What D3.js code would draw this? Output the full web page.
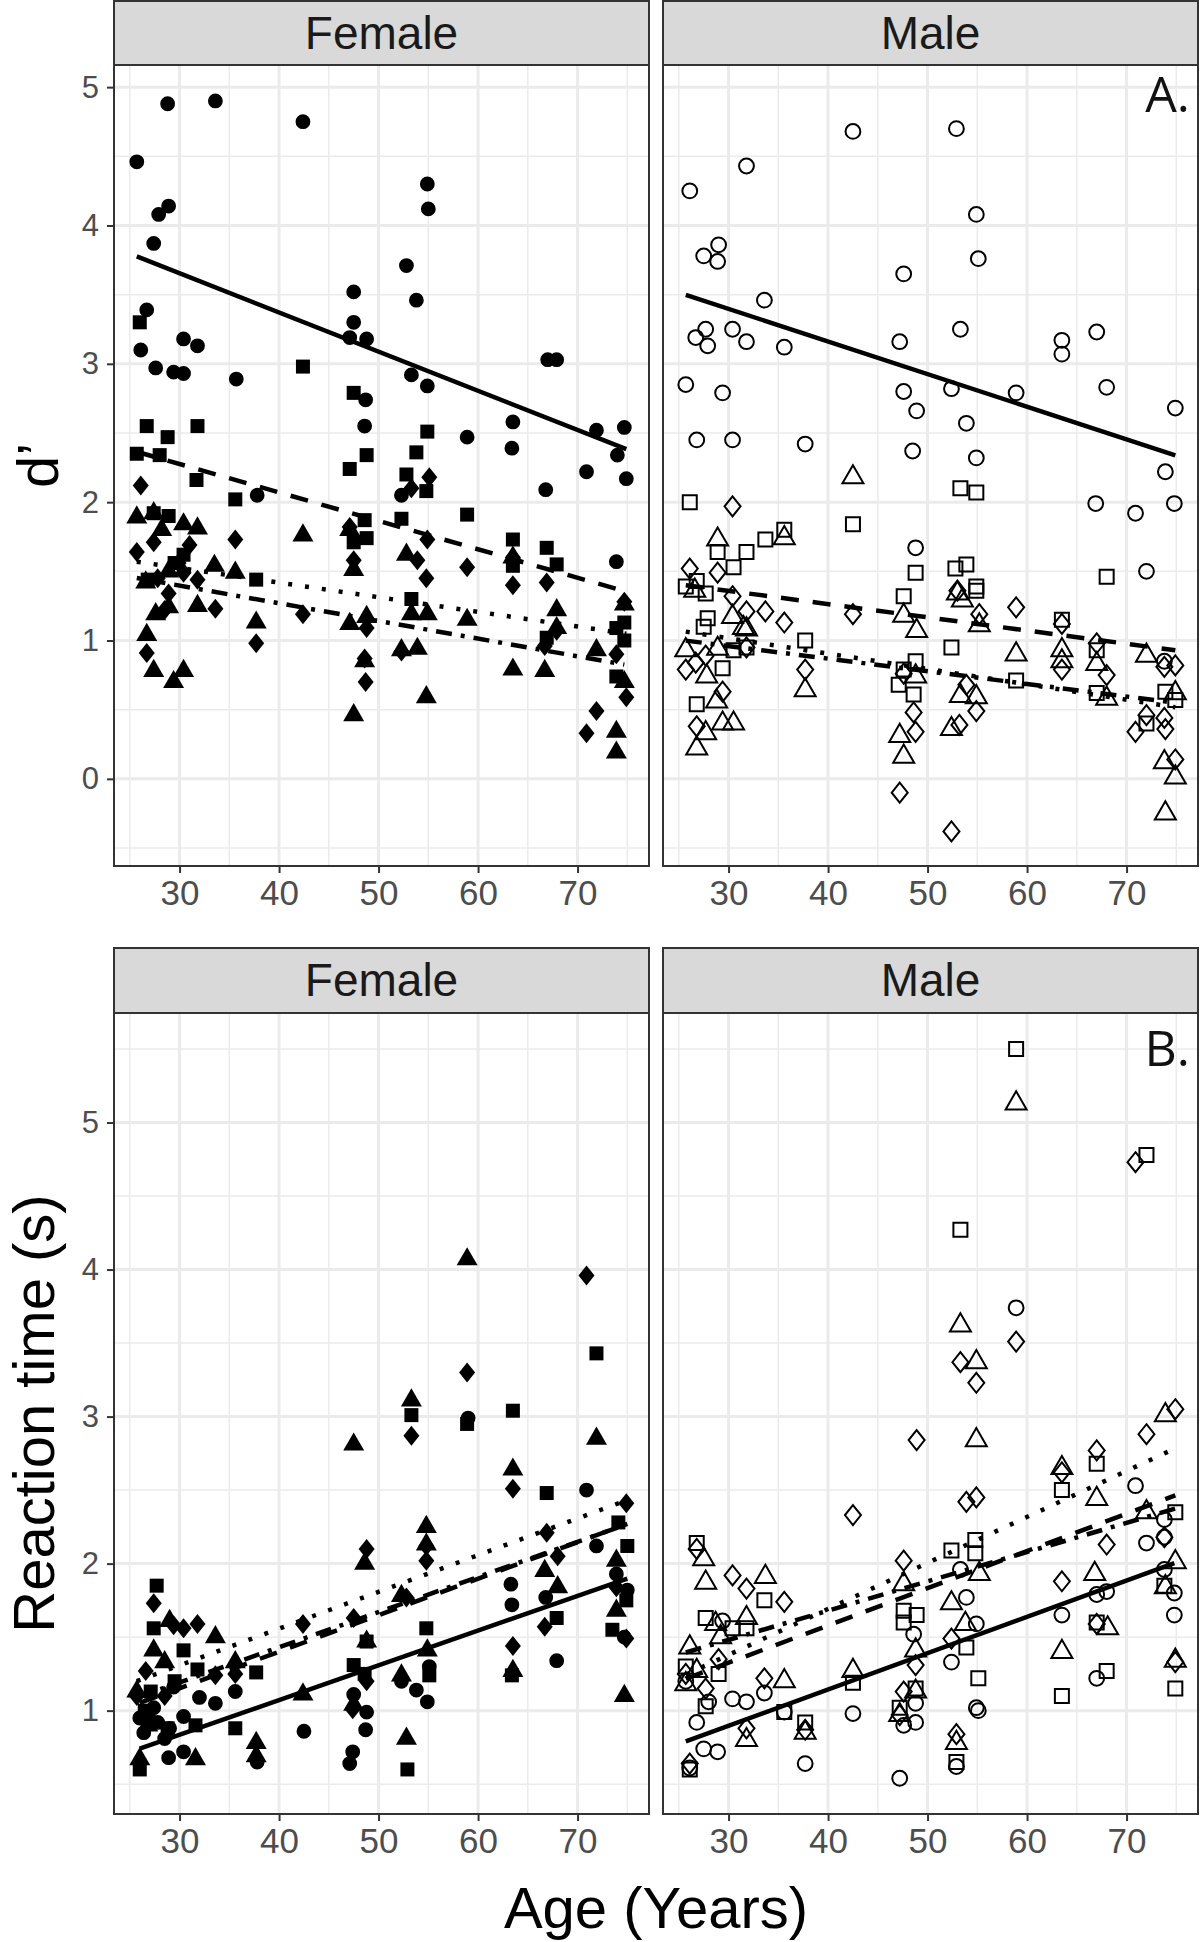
<!DOCTYPE html>
<html>
<head>
<meta charset="utf-8">
<script src="https://cdn.jsdelivr.net/npm/d3@7"></script>
<style>
  body { margin: 0; background: #fff; }
  svg { display: block; font-family: "Liberation Sans", Arial, Helvetica, sans-serif; }
</style>
</head>
<body>
<div id="chart"></div>
<script>
// ---- data (age in years, value) ----
var sexes = ["Female", "Male"];
var ageTicks = [30, 40, 50, 60, 70];
var ageMinor = [25, 35, 45, 55, 65, 75];
var dTicks = [0, 1, 2, 3, 4, 5];
var dMinor = [-0.5, 0.5, 1.5, 2.5, 3.5, 4.5];
var rtTicks = [1, 2, 3, 4, 5];
var rtMinor = [0.5, 1.5, 2.5, 3.5, 4.5, 5.5];
var conditions = ["circle", "square", "diamond", "triangle"];
var lineTypes = { circle: null, square: "18,14", diamond: "4,13", triangle: "16,9,4,9" };

// d' female
var dFemCircle = [[28.8,4.88],[33.6,4.90],[42.4,4.75],[25.7,4.46],[54.9,4.30],[55.0,4.12],[28.9,4.14],[27.9,4.08],[27.4,3.87],[52.8,3.71],[47.5,3.52],[53.8,3.46],[26.7,3.39],[47.5,3.30],[30.4,3.18],[31.8,3.13],[26.1,3.10],[47.1,3.19],[48.8,3.18],[27.6,2.97],[29.4,2.94],[30.4,2.93],[35.7,2.89],[53.3,2.92],[54.9,2.84],[48.7,2.74],[48.6,2.55],[67.0,3.03],[67.9,3.03],[63.5,2.58],[58.9,2.47],[71.9,2.52],[74.7,2.54],[63.4,2.39],[74.0,2.34],[70.9,2.22],[74.9,2.17],[66.8,2.09],[73.9,1.57],[37.8,2.05],[52.3,2.05]];
var dFemSquare = [[26.0,3.30],[26.7,2.55],[28.8,2.47],[31.8,2.55],[25.7,2.35],[28.0,2.34],[31.7,2.16],[35.6,2.02],[42.4,2.98],[47.5,2.79],[48.8,2.34],[47.1,2.24],[54.9,2.51],[53.8,2.36],[52.8,2.20],[54.8,2.08],[58.9,1.91],[52.3,1.88],[48.6,1.87],[48.8,1.74],[47.5,1.71],[63.5,1.73],[66.9,1.67],[67.9,1.55],[53.3,1.30],[73.9,1.09],[74.7,1.13],[37.7,1.44],[27.4,1.92],[28.9,1.90],[26.8,1.44],[29.5,1.56],[30.4,1.62],[66.9,1.02],[63.5,1.54],[73.9,0.74],[74.7,1.00]];
var dFemDiamond = [[26.1,2.12],[25.7,1.64],[27.4,1.71],[35.6,1.73],[31.0,1.69],[31.8,1.44],[28.9,1.34],[33.6,1.23],[37.7,0.98],[42.4,1.19],[47.5,1.58],[47.1,1.82],[48.8,1.09],[48.7,0.70],[48.6,0.87],[55.1,2.18],[53.3,2.10],[54.9,1.73],[53.9,1.58],[54.8,1.45],[58.9,1.53],[63.5,1.40],[63.5,1.60],[66.9,1.42],[66.7,0.96],[67.9,1.07],[73.9,0.90],[71.9,0.49],[70.9,0.33],[74.9,0.59],[74.7,1.28],[26.7,0.91],[29.9,1.56],[30.4,1.49],[28.5,1.22],[27.8,1.45],[52.3,0.92]];
var dFemTriangle = [[25.7,1.89],[27.4,1.92],[26.6,1.42],[26.7,1.04],[27.4,0.78],[29.4,0.70],[30.4,0.78],[27.6,1.19],[28.9,1.24],[31.8,1.81],[30.4,1.84],[33.5,1.54],[35.6,1.49],[31.8,1.25],[37.7,1.13],[42.4,1.76],[47.5,1.51],[47.1,1.80],[47.1,1.12],[48.8,1.17],[48.6,0.85],[47.5,0.46],[52.8,1.62],[53.3,1.19],[52.3,0.93],[53.9,0.94],[54.9,1.19],[54.8,0.59],[58.9,1.15],[63.5,0.79],[63.5,1.60],[66.7,0.78],[67.9,1.22],[67.9,1.09],[71.9,0.93],[73.9,0.34],[73.9,0.19],[74.7,1.26],[74.7,0.70],[28.9,1.50],[28.2,1.80]];

// d' male
var dMaleCircle = [[42.5,4.68],[52.9,4.70],[31.8,4.43],[26.1,4.25],[54.9,4.08],[29.0,3.86],[27.5,3.78],[28.9,3.74],[55.1,3.76],[47.6,3.65],[33.6,3.46],[27.7,3.25],[26.7,3.19],[27.9,3.13],[30.4,3.25],[31.8,3.16],[35.6,3.12],[47.2,3.16],[53.3,3.25],[63.5,3.17],[63.5,3.07],[67.0,3.23],[25.7,2.85],[29.4,2.79],[47.6,2.80],[48.9,2.66],[52.4,2.82],[53.9,2.57],[58.9,2.79],[68.0,2.83],[74.9,2.68],[26.8,2.45],[30.4,2.45],[37.7,2.42],[48.5,2.37],[54.9,2.32],[73.9,2.22],[66.9,1.99],[70.9,1.92],[74.8,1.99],[48.8,1.67],[72.0,1.50],[73.8,0.85]];
var dMaleSquare = [[26.1,2.00],[42.5,1.84],[53.3,2.10],[54.9,2.07],[35.6,1.80],[33.7,1.73],[31.8,1.64],[28.9,1.64],[30.5,1.53],[48.8,1.49],[52.8,1.52],[53.9,1.55],[54.9,1.39],[54.9,1.36],[68.0,1.46],[25.7,1.39],[26.8,1.43],[27.7,1.34],[47.6,1.32],[37.7,1.00],[52.4,0.95],[27.9,1.16],[27.5,1.10],[29.4,0.80],[30.5,0.93],[26.8,0.54],[63.5,1.15],[67.0,0.93],[58.9,0.71],[47.6,0.79],[47.1,0.68],[48.8,0.85],[48.6,0.61],[67.0,0.62],[72.0,0.40],[73.9,0.63],[74.9,0.57],[31.8,0.95]];
var dMaleDiamond = [[30.4,1.97],[26.1,1.52],[28.9,1.49],[30.4,1.32],[31.8,1.21],[33.7,1.21],[35.6,1.13],[42.5,1.19],[37.7,0.79],[25.7,0.79],[26.7,0.84],[31.8,0.95],[29.4,0.63],[26.8,0.38],[47.2,-0.10],[52.4,-0.38],[48.8,0.34],[48.6,0.48],[53.2,0.39],[54.9,0.49],[53.9,0.68],[53.0,1.36],[55.2,1.19],[58.9,1.24],[63.5,1.12],[63.5,0.79],[67.0,0.98],[68.0,0.75],[72.0,0.46],[70.9,0.34],[73.9,0.36],[74.9,0.82],[73.8,0.81],[74.9,0.14],[47.6,0.76],[27.7,0.89],[73.8,0.44]];
var dMaleTriangle = [[42.5,2.18],[28.9,1.73],[35.6,1.74],[30.4,1.17],[31.5,1.09],[26.6,1.36],[25.7,0.93],[28.9,0.94],[27.8,0.74],[28.8,0.56],[29.4,0.40],[30.5,0.40],[27.7,0.33],[26.8,0.22],[37.7,0.64],[47.6,1.18],[48.9,1.07],[47.2,0.31],[47.6,0.16],[48.8,0.74],[52.4,0.36],[53.3,0.60],[54.9,0.59],[53.0,1.34],[53.5,1.29],[55.2,1.11],[58.9,0.90],[63.5,0.93],[63.5,0.85],[67.0,0.83],[68.0,0.58],[72.0,0.89],[73.8,0.12],[74.9,0.01],[73.9,-0.25],[74.9,0.62],[31.8,1.08]];

// reaction time female
var rtFemCircle = [[70.9,2.50],[71.9,2.12],[63.3,1.86],[63.4,1.72],[66.8,1.77],[67.9,1.34],[75.0,1.82],[73.9,1.93],[54.9,1.06],[53.8,1.14],[52.3,1.20],[48.8,0.99],[48.7,0.87],[47.5,1.11],[47.4,0.72],[47.1,0.64],[42.5,0.86],[37.8,0.65],[35.6,1.13],[33.6,1.05],[30.4,0.72],[28.9,0.68],[29.4,1.16],[32.0,1.09],[27.8,0.92],[26.4,0.85],[30.4,0.96],[28.5,0.81],[27.4,1.02],[26.0,0.95],[29.0,0.88],[74.7,1.50],[55.1,1.30],[59.0,2.99]];
var rtFemSquare = [[27.7,1.85],[27.4,1.56],[30.4,1.41],[31.8,1.28],[35.6,0.88],[37.7,1.26],[47.5,1.31],[48.8,1.47],[53.3,3.01],[54.8,1.56],[55.1,1.24],[58.9,2.95],[63.5,3.04],[66.9,2.48],[71.9,3.43],[74.1,2.28],[75.0,2.12],[74.9,1.75],[73.5,1.55],[67.9,1.63],[52.9,0.60],[27.1,1.13],[28.8,0.88],[26.0,0.60],[31.6,0.90],[63.4,1.24],[26.5,1.00],[29.5,1.20],[48.6,1.25]];
var rtFemDiamond = [[27.4,1.73],[31.8,1.59],[30.4,1.56],[26.6,1.27],[42.4,1.59],[47.5,1.63],[48.8,2.10],[48.8,1.20],[47.4,1.01],[53.3,2.87],[54.8,2.02],[54.8,2.12],[58.9,3.30],[63.5,2.51],[63.5,1.44],[66.7,1.57],[66.9,2.21],[68.0,2.05],[70.9,3.96],[74.9,2.41],[74.9,1.49],[73.9,1.84],[25.7,1.10],[28.5,1.10],[26.0,0.64],[33.6,1.24],[52.8,1.77],[29.4,1.58],[27.0,0.95],[35.6,1.25]];
var rtFemTriangle = [[58.9,4.07],[47.5,2.81],[53.3,3.11],[63.5,2.64],[71.9,2.85],[54.8,2.25],[54.8,2.13],[48.6,2.00],[66.7,1.95],[68.0,1.84],[73.9,2.02],[73.9,1.68],[74.7,1.10],[63.5,1.27],[52.3,1.78],[52.3,1.24],[52.8,0.81],[47.5,1.04],[42.4,1.11],[37.7,0.78],[37.7,0.69],[33.6,1.50],[31.6,0.67],[35.6,1.33],[27.4,1.41],[28.5,1.33],[25.7,1.13],[29.0,1.61],[26.0,0.67],[48.8,1.47],[54.9,1.41],[26.8,0.90]];

// reaction time male
var rtMaleCircle = [[58.9,3.74],[70.9,2.53],[72.0,2.14],[73.8,2.30],[73.8,2.18],[74.8,1.65],[67.0,1.79],[68.0,1.81],[63.5,1.65],[67.0,1.22],[73.8,1.96],[53.3,1.96],[53.9,1.77],[54.9,1.59],[52.4,1.33],[54.9,1.02],[55.1,1.00],[52.9,0.62],[48.6,1.52],[48.8,1.05],[48.8,0.92],[47.6,0.90],[47.2,0.54],[42.5,0.98],[37.7,0.64],[35.6,0.99],[33.6,1.12],[31.8,1.06],[30.4,1.08],[29.4,1.61],[27.5,0.74],[28.9,0.72],[26.8,0.92],[26.1,0.61],[28.0,1.06],[25.7,1.20],[74.8,1.80]];
var rtMaleSquare = [[58.9,5.50],[72.0,4.78],[53.3,4.27],[67.0,2.68],[63.5,2.50],[74.9,2.35],[54.8,2.16],[54.8,2.07],[52.4,2.09],[26.8,2.14],[33.6,1.75],[27.7,1.63],[30.4,1.56],[31.8,1.56],[47.6,1.68],[47.6,1.60],[48.9,1.65],[53.9,1.43],[55.1,1.22],[63.5,1.10],[68.0,1.27],[67.0,1.60],[74.9,1.15],[73.8,1.85],[42.5,1.19],[37.7,0.92],[35.6,0.99],[27.7,1.03],[47.2,1.02],[48.8,1.15],[52.9,0.65],[26.1,0.60],[25.7,1.30],[29.0,1.25]];
var rtMaleDiamond = [[70.9,4.73],[58.9,3.51],[53.3,3.37],[54.9,3.23],[48.9,2.84],[74.9,3.05],[72.0,2.88],[67.0,2.77],[63.5,2.62],[42.5,2.33],[53.9,2.42],[54.9,2.45],[68.0,2.13],[47.6,2.02],[63.5,1.88],[30.4,1.92],[31.8,1.83],[35.6,1.74],[26.8,2.10],[52.4,1.49],[33.6,1.22],[67.0,1.59],[74.9,1.33],[73.8,2.18],[48.8,1.31],[47.6,1.13],[47.2,0.97],[52.9,0.84],[37.7,0.87],[31.8,0.88],[26.1,0.64],[25.7,1.25],[27.7,1.15],[29.0,1.35]];
var rtMaleTriangle = [[58.9,5.13],[53.3,3.62],[54.9,3.37],[54.9,2.84],[73.9,3.01],[72.0,2.35],[67.0,2.44],[63.5,2.65],[63.5,1.40],[66.8,1.93],[68.1,1.56],[74.9,2.01],[73.9,1.84],[74.9,1.34],[47.6,1.86],[48.8,1.41],[48.8,1.13],[52.4,1.73],[53.8,1.59],[55.2,1.93],[42.5,1.27],[37.7,0.85],[35.6,1.20],[33.7,1.91],[31.8,1.63],[31.8,0.80],[27.7,1.87],[27.5,2.03],[28.7,1.59],[26.1,1.43],[25.7,1.18],[29.2,1.50],[52.9,0.78],[47.2,0.97],[26.8,1.27]];

// ---- layout ----
var W = 1200, H = 1942;
var panelW = 535, panelLeft = [114, 663];
var rows = [
  { key: "d", stripTop: 1, top: 65, bottom: 866, domain: [-0.63, 5.16], ticks: dTicks, minor: dMinor, tag: "A.",
    title: "d\u2019", titleX: 58,
    series: { Female: [dFemCircle, dFemSquare, dFemDiamond, dFemTriangle], Male: [dMaleCircle, dMaleSquare, dMaleDiamond, dMaleTriangle] } },
  { key: "rt", stripTop: 948, top: 1013, bottom: 1814, domain: [0.297, 5.745], ticks: rtTicks, minor: rtMinor, tag: "B.",
    title: "Reaction time (s)", titleX: 54,
    series: { Female: [rtFemCircle, rtFemSquare, rtFemDiamond, rtFemTriangle], Male: [rtMaleCircle, rtMaleSquare, rtMaleDiamond, rtMaleTriangle] } }
];

var svg = d3.select("#chart").append("svg").attr("width", W).attr("height", H);

var x = d3.scaleLinear().domain([23.41, 77.18]).range([0, panelW]);

function shapePath(kind) {
  if (kind === "circle") return d3.symbol(d3.symbolCircle, Math.PI * 7.4 * 7.4)();
  if (kind === "square") return "M-7,-7H7V7H-7Z";
  if (kind === "diamond") return "M0,-10L8,0L0,10L-8,0Z";
  var s = 21, h = s * Math.sqrt(3) / 2;
  return "M0," + (-2 * h / 3) + "L" + (s / 2) + "," + (h / 3) + "L" + (-s / 2) + "," + (h / 3) + "Z";
}

// least squares line over the age range of the series (like geom_smooth(method = lm))
function fit(pts) {
  var mx = d3.mean(pts, function(d) { return d[0]; });
  var my = d3.mean(pts, function(d) { return d[1]; });
  var sxy = d3.sum(pts, function(d) { return (d[0] - mx) * (d[1] - my); });
  var sxx = d3.sum(pts, function(d) { return (d[0] - mx) * (d[0] - mx); });
  var b = sxy / sxx, a = my - b * mx;
  var ext = d3.extent(pts, function(d) { return d[0]; });
  return ext.map(function(t) { return [t, a + b * t]; });
}

rows.forEach(function(row) {
  var y = d3.scaleLinear().domain(row.domain).range([row.bottom - row.top, 0]);
  var ph = row.bottom - row.top;

  sexes.forEach(function(sex, si) {
    var open = sex === "Male";
    var g = svg.append("g").attr("transform", "translate(" + panelLeft[si] + "," + row.top + ")");

    // strip
    svg.append("rect")
      .attr("x", panelLeft[si]).attr("y", row.stripTop)
      .attr("width", panelW).attr("height", row.top - row.stripTop)
      .style("fill", "#D9D9D9").style("stroke", "#333").style("stroke-width", 2);
    svg.append("text")
      .attr("x", panelLeft[si] + panelW / 2).attr("y", row.stripTop + 48)
      .attr("text-anchor", "middle").style("font-size", "46px").style("fill", "#1A1A1A")
      .text(sex);

    // grid
    g.append("rect").attr("width", panelW).attr("height", ph).style("fill", "#fff");
    g.selectAll(".xminor").data(ageMinor).enter().append("line")
      .attr("x1", function(d) { return x(d); }).attr("x2", function(d) { return x(d); })
      .attr("y1", 0).attr("y2", ph).style("stroke", "#EBEBEB").style("stroke-width", 1.5);
    g.selectAll(".yminor").data(row.minor).enter().append("line")
      .attr("y1", function(d) { return y(d); }).attr("y2", function(d) { return y(d); })
      .attr("x1", 0).attr("x2", panelW).style("stroke", "#EBEBEB").style("stroke-width", 1.5);
    g.selectAll(".xmajor").data(ageTicks).enter().append("line")
      .attr("x1", function(d) { return x(d); }).attr("x2", function(d) { return x(d); })
      .attr("y1", 0).attr("y2", ph).style("stroke", "#EBEBEB").style("stroke-width", 3);
    g.selectAll(".ymajor").data(row.ticks).enter().append("line")
      .attr("y1", function(d) { return y(d); }).attr("y2", function(d) { return y(d); })
      .attr("x1", 0).attr("x2", panelW).style("stroke", "#EBEBEB").style("stroke-width", 3);

    // points
    var sets = row.series[sex];
    conditions.forEach(function(kind, ci) {
      g.selectAll(".pt-" + kind).data(sets[ci]).enter().append("path")
        .attr("d", shapePath(kind))
        .attr("transform", function(d) { return "translate(" + x(d[0]) + "," + y(d[1]) + ")"; })
        .style("fill", open ? "none" : "#000")
        .style("stroke", open ? "#000" : "none")
        .style("stroke-width", 2);
    });

    // regression lines
    var line = d3.line().x(function(d) { return x(d[0]); }).y(function(d) { return y(d[1]); });
    conditions.forEach(function(kind, ci) {
      g.append("path").datum(fit(sets[ci]))
        .attr("d", line)
        .style("fill", "none").style("stroke", "#000").style("stroke-width", 4.5)
        .style("stroke-dasharray", lineTypes[kind]);
    });

    // border
    g.append("rect").attr("width", panelW).attr("height", ph)
      .style("fill", "none").style("stroke", "#333").style("stroke-width", 2);

    // x axis
    var xa = d3.axisBottom(x).tickValues(ageTicks).tickSize(7).tickPadding(6);
    var xg = g.append("g").attr("transform", "translate(0," + ph + ")").call(xa);
    xg.select(".domain").remove();
    xg.selectAll(".tick line").style("stroke", "#333").style("stroke-width", 2);
    xg.selectAll(".tick text").style("font-size", "35px").style("fill", "#4D4D4D")
      .style("font-family", "Liberation Sans, Arial, sans-serif").attr("dy", "0.75em");

    if (si === 0) {
      var ya = d3.axisLeft(y).tickValues(row.ticks).tickSize(7).tickPadding(8).tickFormat(d3.format("d"));
      var yg = g.append("g").call(ya);
      yg.select(".domain").remove();
      yg.selectAll(".tick line").style("stroke", "#333").style("stroke-width", 2);
      yg.selectAll(".tick text").style("font-size", "31px").style("fill", "#4D4D4D")
        .style("font-family", "Liberation Sans, Arial, sans-serif");
    } else {
      g.append("text").attr("x", panelW - 8).attr("y", row.key === "d" ? 47 : 53)
        .attr("text-anchor", "end").style("font-family", "'Open Sans', Lato, sans-serif")
        .style("font-size", "50px").style("fill", "#111").text(row.tag);
    }
  });

  // y title
  svg.append("text")
    .attr("transform", "translate(" + row.titleX + "," + (row.top + row.bottom) / 2 + ") rotate(-90)")
    .attr("text-anchor", "middle").style("font-size", "58px").style("fill", "#000")
    .text(row.title);
});

svg.append("text").attr("x", 656).attr("y", 1928).attr("text-anchor", "middle")
  .style("font-size", "58px").style("fill", "#000").text("Age (Years)");
</script>
</body>
</html>
